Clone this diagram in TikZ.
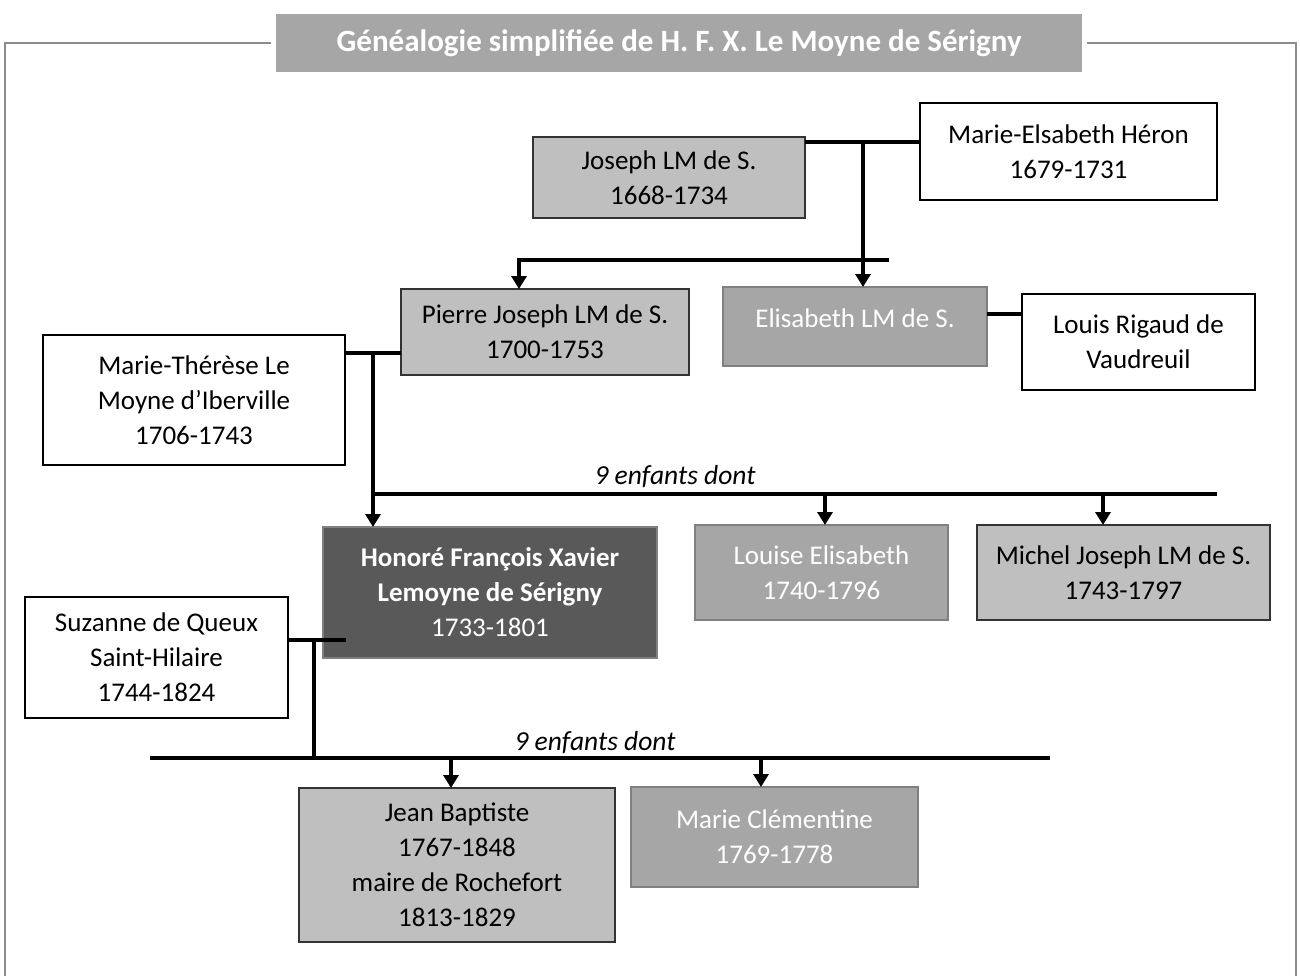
\documentclass[tikz,border=0pt]{standalone}
\usepackage{fontspec}
\setmainfont{Carlito}
\usetikzlibrary{arrows.meta,calc}
\definecolor{lightbox}{HTML}{BFBFBF}
\definecolor{midbox}{HTML}{A6A6A6}
\definecolor{darkbox}{HTML}{595959}
\definecolor{framegray}{HTML}{8C8C8C}
\definecolor{boxedge}{HTML}{808080}
\begin{document}
\begin{tikzpicture}[x=1pt,y=1pt,
  person/.style={draw=black, line width=1.6pt, align=center, inner sep=0pt, outer sep=0pt,
    font=\fontsize{27}{35}\selectfont, anchor=north west},
  spouse/.style={person, fill=white},
  lgbox/.style={person, fill=lightbox, draw=black!80},
  mgbox/.style={person, fill=midbox, draw=boxedge, line width=2pt, text=white},
  dgbox/.style={person, fill=darkbox, draw=boxedge, line width=2pt, text=white},
  link/.style={line width=4pt, line join=miter},
  desc/.style={line width=4pt, line join=miter, -{Triangle[width=15pt,length=13pt]}},
  lbl/.style={font=\fontsize{27.5}{30}\selectfont\itshape, inner sep=0pt},
  frame/.style={draw=framegray, line width=2.2pt},
  titlebox/.style={fill=midbox, text=white, anchor=north west, inner sep=0pt,
    font=\fontsize{31}{34}\selectfont\bfseries}]
\useasboundingbox (0,0) rectangle (1300,-976);

% title and frame
\node[titlebox, minimum width=806pt, minimum height=58pt] (title) at (276,-14)
  {Généalogie simplifiée de H. F. X. Le Moyne de Sérigny};
\draw[frame] ([xshift=-5pt]title.west) -| (5,-990);
\draw[frame] ([xshift=5pt]title.east) -| (1296,-990);

% persons
\node[lgbox, minimum width=272pt, minimum height=81pt] (joseph) at (533,-137) {Joseph LM de S.\\1668-1734};
\node[spouse, minimum width=297pt, minimum height=97pt] (heron) at (920,-103) {Marie-Elsabeth Héron\\1679-1731};
\node[lgbox, minimum width=288pt, minimum height=86pt] (pierre) at (401,-289) {Pierre Joseph LM de S.\\1700-1753};
\node[mgbox, minimum width=264pt, minimum height=79pt] (elisabeth) at (723,-287) {\raisebox{17pt}{Elisabeth LM de S.}};
\node[spouse, minimum width=233pt, minimum height=96pt] (louis) at (1022,-294) {Louis Rigaud de\\Vaudreuil};
\node[spouse, minimum width=302pt, minimum height=130pt] (mthe) at (43,-335) {Marie-Thérèse Le\\Moyne d’Iberville\\1706-1743};
\node[dgbox, minimum width=334pt, minimum height=131pt] (honore) at (323,-527) {\textbf{Honoré François Xavier}\\\textbf{Lemoyne de Sérigny}\\1733-1801};
\node[mgbox, minimum width=253pt, minimum height=95pt] (louise) at (695,-525) {Louise Elisabeth\\1740-1796};
\node[lgbox, minimum width=293pt, minimum height=95pt] (michel) at (977,-525) {Michel Joseph LM de S.\\1743-1797};
\node[spouse, minimum width=263pt, minimum height=121pt] (suzanne) at (25,-597) {Suzanne de Queux\\Saint-Hilaire\\1744-1824};
\node[lgbox, minimum width=316pt, minimum height=154pt] (jean) at (299,-788) {Jean Baptiste\\1767-1848\\maire de Rochefort\\1813-1829};
\node[mgbox, minimum width=287pt, minimum height=100pt] (clem) at (631,-787) {Marie Clémentine\\1769-1778};

% labels
\node[lbl] (l1) at (675,-477) {9 enfants dont};
\node[lbl] (l2) at (595,-743) {9 enfants dont};

% junction coordinates
\coordinate (jh) at (863,-142);
\coordinate (s1a) at (889,-260);
\coordinate (s1b) at (519,-260);
\coordinate (el) at (0,-314);
\coordinate (pm) at (373,-353);
\coordinate (s2a) at (371,-494);
\coordinate (s2b) at (1217,-494);
\coordinate (a21) at (825,-494);
\coordinate (a22) at (1103,-494);
\coordinate (hs) at (314,-640);
\coordinate (hsend) at (346,-640);
\coordinate (s3a) at (150,-758);
\coordinate (s3b) at (1050,-758);
\coordinate (s3c) at (314,-758);
\coordinate (a31) at (451,-758);
\coordinate (a32) at (761,-758);

% couples
\draw[link] (joseph.east |- jh) -- (heron.west |- jh);
\draw[link] (elisabeth.east |- el) -- (louis.west |- el);
\draw[link] (mthe.east |- pm) -- (pierre.west |- pm);
\draw[link] (suzanne.east |- hs) -- (hsend);

% descendants, generation 1
\draw[desc] (jh) -- (jh |- elisabeth.north);
\draw[desc] (s1a) -- (s1b) -- (s1b |- pierre.north);

% generation 2
\draw[desc] (pm) -- (pm |- honore.north);
\draw[link] (s2a) -- (s2b);
\draw[desc] (a21) -- (a21 |- louise.north);
\draw[desc] (a22) -- (a22 |- michel.north);

% generation 3
\draw[link] (hs) -- (s3c);
\draw[link] (s3a) -- (s3b);
\draw[desc] (a31) -- (a31 |- jean.north);
\draw[desc] (a32) -- (a32 |- clem.north);
\end{tikzpicture}
\end{document}
